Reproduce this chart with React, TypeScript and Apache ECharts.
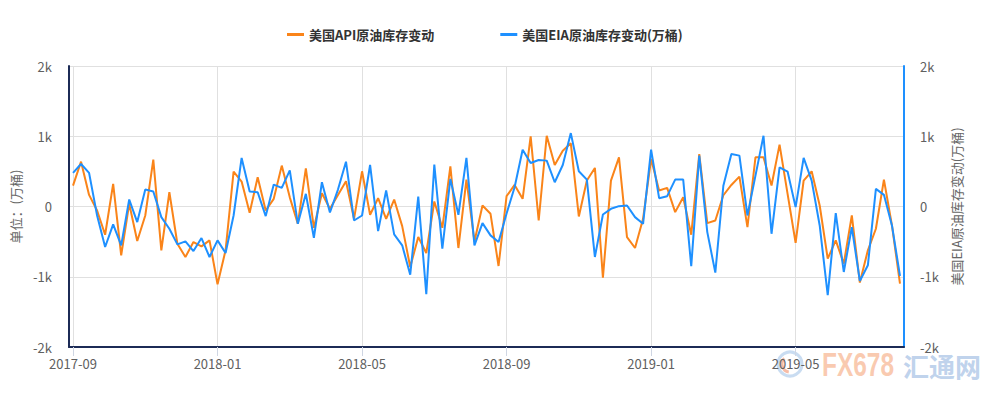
import React, { useEffect, useRef } from "react";
import * as echarts from "echarts";

const weeks: string[] = [
  "2017-09-06", "2017-09-13", "2017-09-20", "2017-09-27", "2017-10-04", "2017-10-11", "2017-10-18", "2017-10-25",
  "2017-11-01", "2017-11-08", "2017-11-15", "2017-11-22", "2017-11-29", "2017-12-06", "2017-12-13", "2017-12-20",
  "2017-12-27", "2018-01-03", "2018-01-10", "2018-01-17", "2018-01-24", "2018-01-31", "2018-02-07", "2018-02-14",
  "2018-02-21", "2018-02-28", "2018-03-07", "2018-03-14", "2018-03-21", "2018-03-28", "2018-04-04", "2018-04-11",
  "2018-04-18", "2018-04-25", "2018-05-02", "2018-05-09", "2018-05-16", "2018-05-23", "2018-05-30", "2018-06-06",
  "2018-06-13", "2018-06-20", "2018-06-27", "2018-07-04", "2018-07-11", "2018-07-18", "2018-07-25", "2018-08-01",
  "2018-08-08", "2018-08-15", "2018-08-22", "2018-08-29", "2018-09-05", "2018-09-12", "2018-09-19", "2018-09-26",
  "2018-10-03", "2018-10-10", "2018-10-17", "2018-10-24", "2018-10-31", "2018-11-07", "2018-11-14", "2018-11-21",
  "2018-11-28", "2018-12-05", "2018-12-12", "2018-12-19", "2018-12-26", "2019-01-02", "2019-01-09", "2019-01-16",
  "2019-01-23", "2019-01-30", "2019-02-06", "2019-02-13", "2019-02-20", "2019-02-27", "2019-03-06", "2019-03-13",
  "2019-03-20", "2019-03-27", "2019-04-03", "2019-04-10", "2019-04-17", "2019-04-24", "2019-05-01", "2019-05-08",
  "2019-05-15", "2019-05-22", "2019-05-29", "2019-06-05", "2019-06-12", "2019-06-19", "2019-06-26", "2019-07-03",
  "2019-07-10", "2019-07-17", "2019-07-24", "2019-07-31", "2019-08-07", "2019-08-14", "2019-08-21", "2019-08-28",
];

// 美国API原油库存变动 (万桶)
const apiChange: number[] = [
  298, 638, 165, -57, -402, 322, -695, 38, -492, -128,
  667, -624, 203, -530, -719, -506, -568, -482, -1107, -624,
  497, 355, -90, 416, -57, 109, 582, 130, -246, 544,
  -303, 189, -33, 165, 359, -175, 501, -118, 118, -175,
  99, -279, -861, -435, -662, 71, -303, 572, -591, 383,
  -497, 14, -104, -847, 147, 307, 109, 998, -199, 1007,
  591, 795, 899, -142, 369, 549, -1012, 369, 700, -435,
  -591, -175, 676, 227, 265, -80, 132, -402, 747, -236,
  -199, 160, 307, 426, -293, 700, 700, 298, 880, 180,
  -516, 369, 501, 14, -743, -482, -814, -128, -1083, -624,
  -317, 383, -270, -1097,
];

// 美国EIA原油库存变动 (万桶)
const eiaChange: number[] = [
  478, 605, 478, -128, -577, -255, -553, 99, -222, 241,
  213, -151, -317, -539, -497, -634, -449, -719, -482, -662,
  -128, 691, 213, 203, -137, 312, 265, 515, -246, 180,
  -445, 345, -85, 241, 638, -199, -128, 591, -350, 227,
  -397, -553, -970, 142, -1249, 596, -601, 393, -118, 691,
  -553, -236, -411, -506, -100, 274, 809, 620, 662, 653,
  345, 591, 1045, 501, 383, -719, -114, -33, 5, 14,
  -151, -246, 809, 118, 147, 383, 383, -851, 724, -364,
  -941, 295, 747, 724, -128, 440, 1007, -388, 558, 497,
  -9, 691, 369, -270, -1263, -95, -932, -293, -1060, -837,
  251, 166, -270, -989,
];

const yTicks: number[] = [-2000, -1000, 0, 1000, 2000];

const seriesNames: string[] = ["美国API原油库存变动", "美国EIA原油库存变动(万桶)"];

const FONT = '"Microsoft YaHei", "Noto Sans CJK SC", sans-serif';

export default function App() {
  const ref = useRef<HTMLDivElement | null>(null);

  useEffect(() => {
    if (!ref.current) return;
    const chart = echarts.init(ref.current, undefined, { renderer: "svg" });
    const kFmt = (v: number) => (v === 0 ? "0" : `${v / 1000}k`);
    const option: any = {
      animation: false,
      backgroundColor: "#ffffff",
      textStyle: { fontFamily: FONT },
      color: ["#fa8419", "#1e90ff"],
      legend: {
        data: seriesNames,
        left: 287,
        top: 28,
        padding: 0,
        icon: "rect",
        itemWidth: 17,
        itemHeight: 3,
        itemGap: 66,
        textStyle: { color: "#333", fontSize: 13, fontWeight: "bold", fontFamily: FONT },
      },
      grid: { left: 69, right: 96, top: 66, bottom: 53, containLabel: false },
      xAxis: {
        type: "category",
        data: weeks,
        boundaryGap: true,
        axisLine: { show: true, onZero: false, lineStyle: { color: "#1c2b56", width: 2 } },
        axisTick: { show: true, interval: 17, alignWithLabel: true, length: 9, lineStyle: { color: "#cfd6e3" } },
        axisLabel: {
          interval: 17,
          margin: 10,
          color: "#606060",
          fontSize: 13,
          fontFamily: FONT,
          formatter: (v: string) => v.slice(0, 7),
        },
        splitLine: { show: true, interval: 17, alignWithLabel: true, lineStyle: { color: "#e0e0e0", width: 1 } },
      },
      yAxis: [
        {
          type: "value",
          position: "left",
          min: yTicks[0],
          max: yTicks[yTicks.length - 1],
          interval: 1000,
          name: "单位：(万桶)",
          nameLocation: "middle",
          nameGap: 47,
          nameTextStyle: { color: "#666", fontSize: 13, fontFamily: FONT },
          axisLine: { show: true, lineStyle: { color: "#1c2b56", width: 2 } },
          axisTick: { show: false },
          axisLabel: { margin: 17, color: "#606060", fontSize: 13, fontFamily: FONT, formatter: kFmt },
          splitLine: { show: true, lineStyle: { color: "#e0e0e0", width: 1 } },
        },
        {
          type: "value",
          position: "right",
          min: yTicks[0],
          max: yTicks[yTicks.length - 1],
          interval: 1000,
          name: "美国EIA原油库存变动(万桶)",
          nameLocation: "middle",
          nameGap: 46,
          nameTextStyle: { color: "#666", fontSize: 13, fontFamily: FONT },
          axisLine: { show: true, lineStyle: { color: "#1e90ff", width: 2 } },
          axisTick: { show: false },
          axisLabel: { margin: 16, color: "#606060", fontSize: 13, fontFamily: FONT, formatter: kFmt },
          splitLine: { show: false },
        },
      ],
      series: [
        {
          name: seriesNames[0],
          type: "line",
          data: apiChange,
          yAxisIndex: 0,
          symbol: "none",
          showSymbol: false,
          lineStyle: { width: 2 },
          z: 2,
        },
        {
          name: seriesNames[1],
          type: "line",
          data: eiaChange,
          yAxisIndex: 1,
          symbol: "none",
          showSymbol: false,
          lineStyle: { width: 2 },
          z: 3,
        },
      ],
      graphic: [
        {
          type: "group",
          z: 100,
          silent: true,
          children: [
            {
              type: "circle",
              shape: { cx: 790, cy: 364, r: 12 },
              style: { fill: "none", stroke: "#bcd3ee", lineWidth: 3, opacity: 0.8 },
            },
            {
              type: "arc",
              shape: { cx: 790, cy: 364, r: 8, startAngle: Math.PI * 0.55, endAngle: Math.PI * 1.25 },
              style: { fill: "none", stroke: "#f5ab90", lineWidth: 3, opacity: 0.8 },
            },
            {
              type: "text",
              x: 822,
              y: 364,
              scaleX: 0.72,
              style: {
                text: "FX678",
                font: 'bold 34px "Liberation Sans", sans-serif',
                fill: "#f9c1a2",
                verticalAlign: "middle",
                align: "left",
                opacity: 0.85,
              },
            },
            {
              type: "text",
              x: 903,
              y: 365,
              style: {
                text: "汇通网",
                font: 'bold 26px "Noto Sans CJK SC", sans-serif',
                fill: "#b7cdea",
                verticalAlign: "middle",
                align: "left",
                opacity: 0.9,
              },
            },
          ],
        },
      ],
    };
    chart.setOption(option);
    return () => chart.dispose();
  }, []);

  return (
    <div
      ref={ref}
      style={{ position: "absolute", left: 0, top: 0, width: 1000, height: 400 }}
    />
  );
}
